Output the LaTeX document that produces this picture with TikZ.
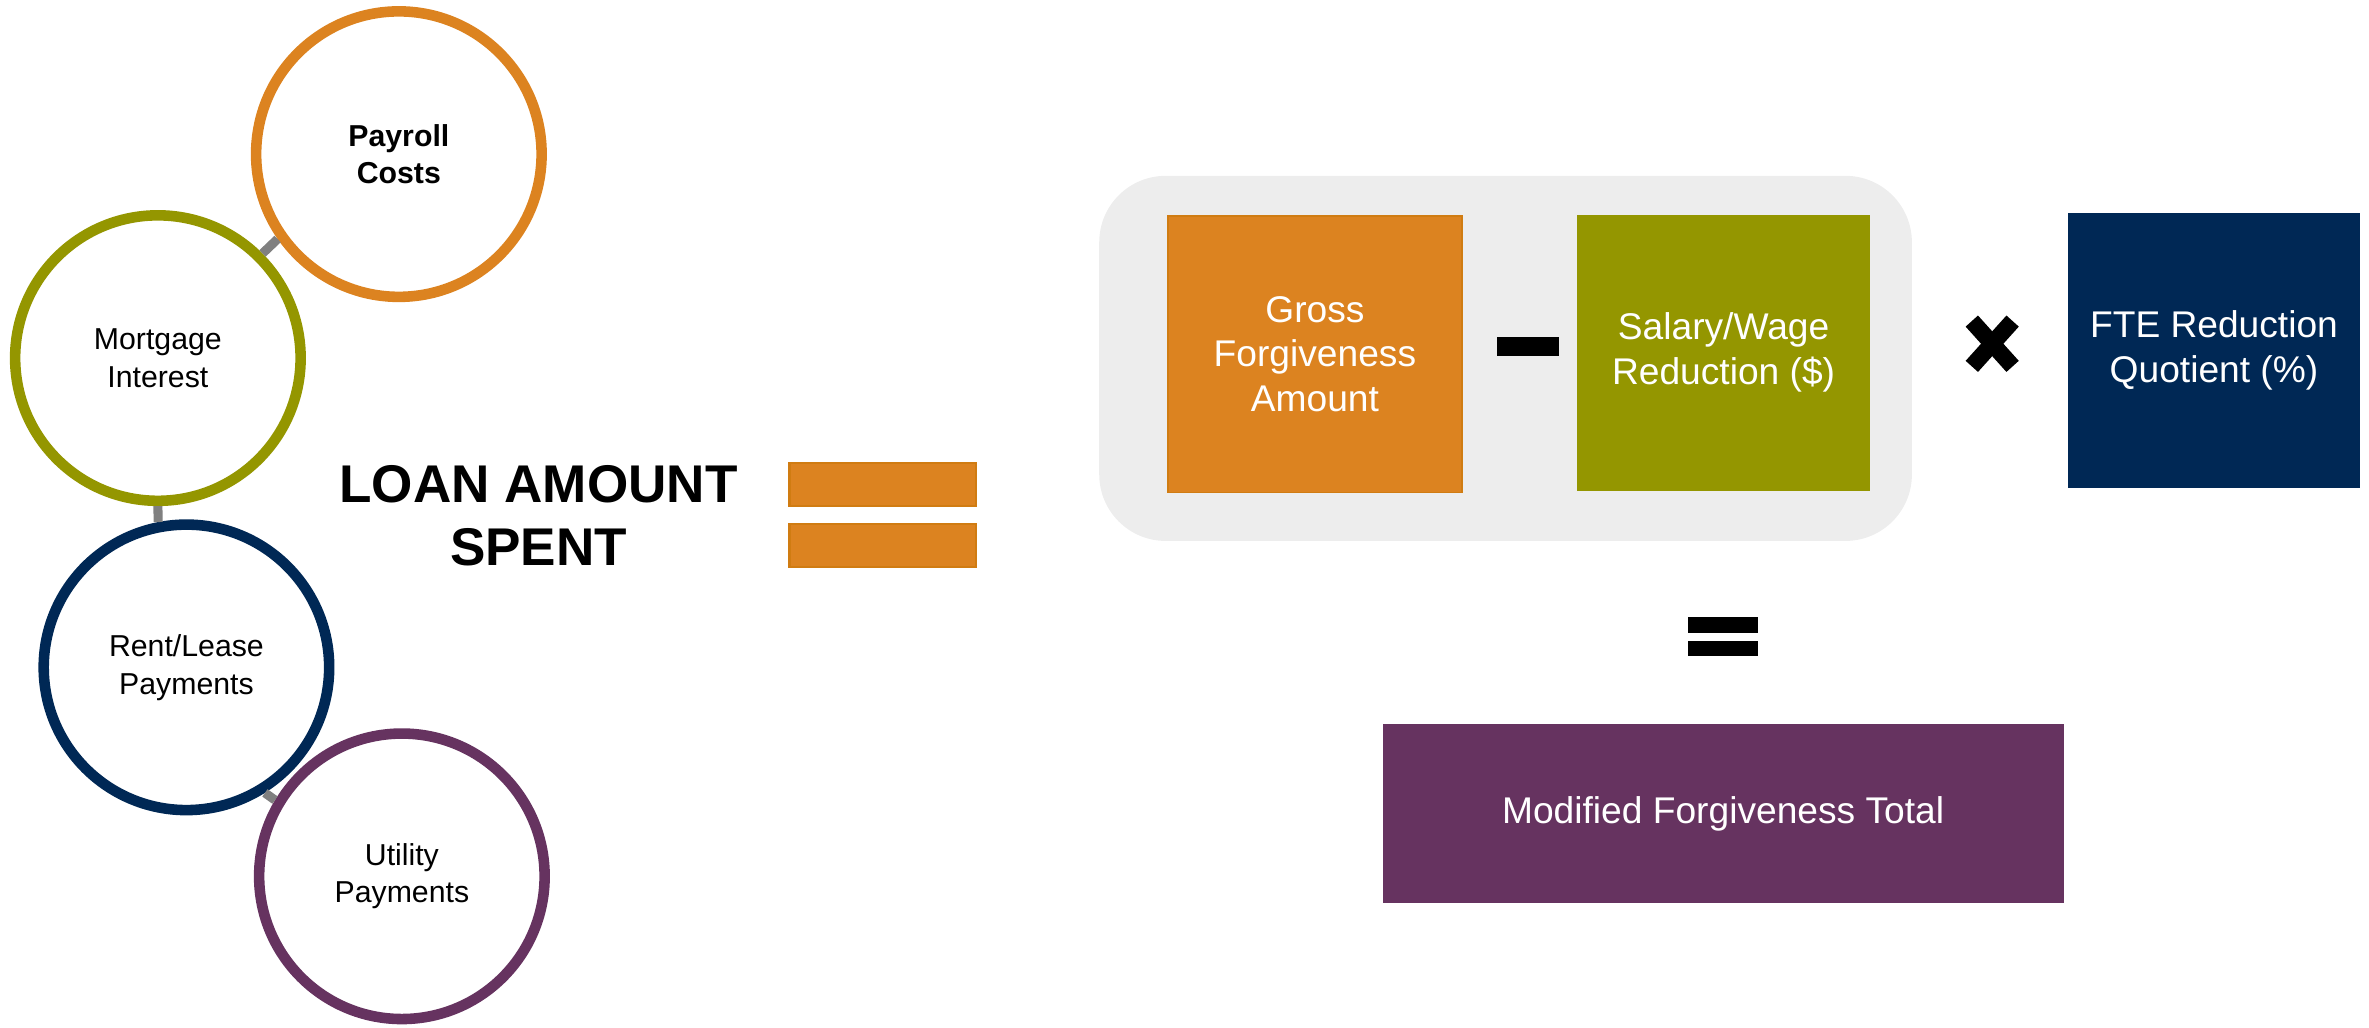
\documentclass[tikz,border=0pt]{standalone}
\usepackage{fontspec}
\setmainfont{Liberation Sans}
\usepackage{tikz}
\usetikzlibrary{shapes,positioning}
\usepackage{xcolor}

\definecolor{ppporange}{HTML}{DC8320}
\definecolor{pppedge}{HTML}{D07C12}
\definecolor{pppolive}{HTML}{949600}
\definecolor{pppnavy}{HTML}{002855}
\definecolor{ppppurple}{HTML}{663360}
\definecolor{pppgrey}{HTML}{EDEDED}
\definecolor{pppline}{HTML}{808080}

\begin{document}
\begin{tikzpicture}[
    x=0.02cm, y=-0.02cm,
    ring/.style={circle, draw, line width=0.14cm, fill=white, minimum size=3.78cm, inner sep=0pt, align=center, font=\fontsize{11.4}{14.2}\selectfont},
    calcbox/.style={rectangle, minimum width=3.87cm, minimum height=3.65cm, inner sep=0pt, align=center, text=white, font=\fontsize{14}{16.9}\selectfont},
    bar/.style={rectangle, fill=black, inner sep=0pt, minimum width=0.92cm, minimum height=0.204cm},
    obar/.style={rectangle, fill=ppporange, draw=pppedge, line width=0.8pt, inner sep=0pt, minimum width=2.47cm, minimum height=0.57cm},
    link/.style={draw=pppline, line width=0.12cm}
]
\useasboundingbox (0,0) rectangle (1568,680);

% Expense circles
\node[ring, draw=ppporange] (payroll) at (264,102) {\textbf{Payroll}\\\textbf{Costs}};
\node[ring, draw=pppolive] (mortgage) at (104.5,237) {Mortgage\\Interest};
\node[ring, draw=pppnavy] (rent) at (123.4,441.7) {Rent/Lease\\Payments};
\node[ring, draw=ppppurple] (utility) at (266,580) {Utility\\Payments};

\draw[link] (payroll.215) -- (mortgage.45);
\draw[link] (mortgage.south) -- (rent.101);
\draw[link] (rent.302) -- (utility.149);

% Loan amount spent
\node[align=center, inner sep=0pt, font=\fontsize{20}{23.9}\selectfont\bfseries] (spent) at (356.5,341.5) {LOAN AMOUNT\\SPENT};
\node[obar] (eqtop) at (584.3,320.5) {};
\node[obar] (eqbot) at (584.3,361.2) {};

% Forgiveness formula
\node[rectangle, fill=pppgrey, rounded corners=0.88cm, minimum width=10.76cm, minimum height=4.834cm] (panel) at (996.5,237.2) {};
\node[calcbox, fill=ppporange, draw=pppedge, line width=0.6pt, minimum width=3.894cm, minimum height=3.664cm] (gross) at (870.3,234.4) {Gross\\Forgiveness\\Amount};
\node[bar, minimum width=0.82cm, minimum height=0.248cm] (minus) at (1011.5,229.2) {};
\node[calcbox, fill=pppolive] (salary) at (1140.8,233.5) {Salary/Wage\\Reduction (\$)};
\coordinate (times) at (1318.6,227.5);
\draw[line width=0.22cm] (times) +(-13.5,-15) -- +(13.5,15);
\draw[line width=0.22cm] (times) +(13.5,-15) -- +(-13.5,15);
\node[calcbox, fill=pppnavy, minimum width=3.864cm, minimum height=3.648cm] (fte) at (1465.4,232) {FTE Reduction\\Quotient (\%)};

% Result
\node[bar] (restop) at (1140.5,413.7) {};
\node[bar] (resbot) at (1140.5,429.1) {};
\node[calcbox, fill=ppppurple, minimum width=9.02cm, minimum height=2.376cm] (total) at (1140.5,538.6) {Modified Forgiveness Total};

\end{tikzpicture}
\end{document}
